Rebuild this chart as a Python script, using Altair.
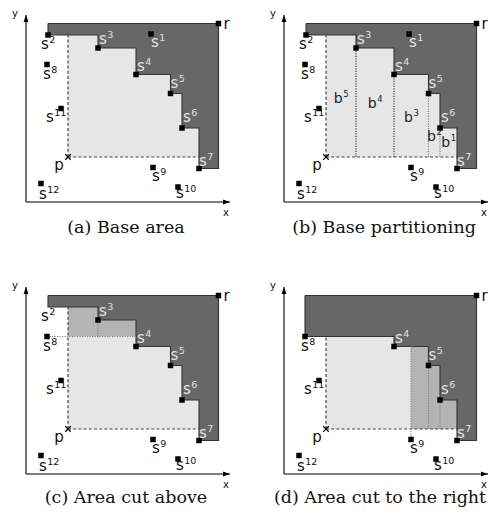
import altair as alt
import pandas as pd

# ---------------- data (diagram coordinates, origin = axis corner) ----------------
point_names = ["s1", "s2", "s3", "s4", "s5", "s6", "s7", "s8", "s9", "s10", "s11", "s12"]
point_x = [125, 22, 72, 110, 144.5, 156, 173, 21, 127, 152, 35, 15]
point_y = [168, 167, 154, 127.5, 108.5, 74, 33.5, 137.5, 34.5, 15, 93.5, 18.5]
ref_r = [192.5, 178.5]
query_p = [42, 45]
axis_end = [204, 187]

panel_keys = ["a", "b", "c", "d"]
captions = ["(a)  Base area", "(b)  Base partitioning",
            "(c)  Area cut above", "(d)  Area cut to the right"]
shown_points = {
    "a": point_names,
    "b": point_names,
    "c": point_names[2:],
    "d": point_names[3:],
}
shown_labels = {
    "a": point_names,
    "b": point_names,
    "c": point_names[1:],
    "d": point_names[3:],
}
skylines = {
    "a": ["s2", "s3", "s4", "s5", "s6", "s7"],
    "b": ["s2", "s3", "s4", "s5", "s6", "s7"],
    "c": ["s2", "s3", "s4", "s5", "s6", "s7"],
    "d": ["s8", "s4", "s5", "s6", "s7"],
}
cut_above = {"c": "s8"}
cut_right = {"d": "s9"}
partition_names = ["b5", "b4", "b3", "b2", "b1"]
partition_label_y = [103.5, 98.5, 84.5, 65.5, 59.5]

# label placement offsets (annotation layout)
label_dx = [7, 0, 8, 8, 7, 8, 7, 3, 6, 8, -5, 8]
label_dy = [-9, -10, 8, 8, 10, 10, 7, -10, -9, -7, -9, -11]

# ---------------- styling ----------------
DARK = "#676767"
LIGHT = "#e6e6e6"
MID = "#b4b4b4"
OUTLINE = "#333333"
PX = dict(zip(point_names, point_x))
PY = dict(zip(point_names, point_y))
RX, RY = ref_r
QX, QY = query_p
LDX = dict(zip(point_names, label_dx))
LDY = dict(zip(point_names, label_dy))

col_dom = [[-18, 240], [-18, 206]]
row_dom = [[-80, 194], [-33, 192]]


def enc_x(f, dom):
    return alt.X(f, type="quantitative", axis=None,
                 scale=alt.Scale(domain=dom, nice=False, zero=False))


def enc_y(f, dom):
    return alt.Y(f, type="quantitative", axis=None,
                 scale=alt.Scale(domain=dom, nice=False, zero=False))


def panel(i):
    key = panel_keys[i]
    xdom = col_dom[i % 2]
    ydom = row_dom[i // 2]
    sky = skylines[key]
    sx = [PX[n] for n in sky]
    sy = [PY[n] for n in sky]
    n = len(sky)

    dark = [(x, RX, y, RY) for x, y in zip(sx, sy)]
    steps = [(QX, sx[k + 1], QY, sy[k]) for k in range(n - 1)]
    dashed = [(QX, QY, QX, sy[0]), (QX, QY, sx[-1], QY)]
    dotted_dark, dotted_grey = [], []
    light, medium = steps, []
    if key == "b":
        light = [(max(sx[k], QX), sx[k + 1], QY, sy[k]) for k in range(n - 1)]
        segs = [(sx[k], QY, sx[k], sy[k]) for k in range(1, n - 1)]
        dotted_dark, dotted_grey = segs[:2], segs[2:]
    elif key == "c":
        cut = cut_above[key]
        cy = PY[cut]
        light = [(a, b, c, min(d, cy)) for a, b, c, d in steps]
        medium = [(a, b, cy, d) for a, b, c, d in steps if d > cy]
        reach = max(b for a, b, c, d in steps if d >= cy)
        dotted_grey = [(PX[cut], cy, reach, cy)] + [
            (sx[k], cy, sx[k], sy[k]) for k in range(1, n - 1) if sy[k] > cy]
    elif key == "d":
        cut = cut_right[key]
        cx = PX[cut]
        light = [(a, min(b, cx), c, d) for a, b, c, d in steps]
        medium = [(cx, b, c, d) for a, b, c, d in steps if b > cx]
        top = max(d for a, b, c, d in steps if b > cx)
        dotted_grey = [(cx, PY[cut], cx, top)] + [
            (sx[k], QY, sx[k], sy[k]) for k in range(1, n - 1) if sx[k] > cx]

    rect_rows = ([dict(x0=a, x1=b, y0=c, y1=d, fill=DARK) for a, b, c, d in dark]
                 + [dict(x0=a, x1=b, y0=c, y1=d, fill=MID) for a, b, c, d in medium]
                 + [dict(x0=a, x1=b, y0=c, y1=d, fill=LIGHT) for a, b, c, d in light])
    rects = alt.Chart(pd.DataFrame(rect_rows)).mark_rect(strokeWidth=0).encode(
        x=enc_x("x0", xdom), x2="x1", y=enc_y("y0", ydom), y2="y1",
        color=alt.Color("fill:N", scale=None))

    # outline of dominated (dark) region
    path = [(sx[0], RY), (RX, RY), (RX, sy[-1])]
    for k in range(n - 1, 0, -1):
        path += [(sx[k], sy[k]), (sx[k], sy[k - 1])]
    path += [(sx[0], sy[0]), (sx[0], RY)]
    outline = alt.Chart(pd.DataFrame(
        [dict(x=x, y=y, o=j) for j, (x, y) in enumerate(path)])).mark_line(
        color=OUTLINE, strokeWidth=1.1).encode(
        x=enc_x("x", xdom), y=enc_y("y", ydom), order="o:Q")

    def seg_chart(segs, dash, color, width):
        df = pd.DataFrame([dict(x0=a, y0=b, x1=c, y1=d) for a, b, c, d in segs])
        return alt.Chart(df).mark_rule(strokeDash=dash, color=color, strokeWidth=width).encode(
            x=enc_x("x0", xdom), y=enc_y("y0", ydom), x2="x1", y2="y1")

    layers = [rects, outline, seg_chart(dashed, [3, 2.2], "#444444", 1.2)]
    if dotted_dark:
        layers.append(seg_chart(dotted_dark, [1.2, 1.3], "#333333", 1.1))
    if dotted_grey:
        layers.append(seg_chart(dotted_grey, [1.2, 1.3], "#808080", 1.1))

    # axes
    layers.append(seg_chart([(0, 0, axis_end[0], 0), (0, 0, 0, axis_end[1])], [1, 0], "black", 1.1))
    arrows = pd.DataFrame([
        dict(x=axis_end[0], y=0, s="M0,0L-2,-0.7L-2,0.7Z"),
        dict(x=0, y=axis_end[1], s="M0,0L-0.7,2L0.7,2Z"),
    ])
    layers.append(alt.Chart(arrows).mark_point(filled=True, color="black", size=49, opacity=1).encode(
        x=enc_x("x", xdom), y=enc_y("y", ydom), shape=alt.Shape("s:N", scale=None)))

    # markers
    mk = pd.DataFrame([dict(x=PX[m], y=PY[m]) for m in shown_points[key]] + [dict(x=RX, y=RY)])
    layers.append(alt.Chart(mk).mark_square(size=30, color="black", opacity=1).encode(
        x=enc_x("x", xdom), y=enc_y("y", ydom)))
    layers.append(alt.Chart(pd.DataFrame([dict(x=QX, y=QY)])).mark_point(
        shape="M-1,-1L1,1M-1,1L1,-1", size=30, filled=False, color="black",
        strokeWidth=1.2, opacity=1).encode(x=enc_x("x", xdom), y=enc_y("y", ydom)))

    # labels: base letter + raised index
    def on_dark(x, y):
        return any(a <= x <= b and c <= y <= d for a, b, c, d in dark)

    mains, sups = [], []

    def add_label(name, cx, cy, color, fs, sfs):
        letter, idx = name[0], name[1:]
        w_main = (0.635 if letter == "b" else 0.521) * fs
        w_sup = 0.636 * sfs * len(idx)
        bx = cx - (w_main + w_sup) / 2 + w_main
        mains.append(dict(x=bx, y=cy - 4, t=letter, c=color, fs=fs))
        sups.append(dict(x=bx + 0.4, y=cy + 1.8, t=idx, c=color, fs=sfs))

    for m in shown_labels[key]:
        lx, ly = PX[m] + LDX[m], PY[m] + LDY[m]
        add_label(m, lx, ly, "#e2e2e2" if on_dark(lx, ly) else "#111111", 15, 9.5)
    if key == "b":
        for (a, b, c, d), nm, yy in zip(light, partition_names, partition_label_y):
            add_label(nm, (a + b) / 2, yy, "#222222", 14, 8.5)

    layers.append(alt.Chart(pd.DataFrame(mains)).mark_text(
        font="DejaVu Sans", baseline="alphabetic", align="right").encode(
        x=enc_x("x", xdom), y=enc_y("y", ydom), text="t:N",
        size=alt.Size("fs:Q", scale=None),
        color=alt.Color("c:N", scale=None)))
    layers.append(alt.Chart(pd.DataFrame(sups)).mark_text(
        font="DejaVu Sans", baseline="alphabetic", align="left").encode(
        x=enc_x("x", xdom), y=enc_y("y", ydom), text="t:N",
        size=alt.Size("fs:Q", scale=None),
        color=alt.Color("c:N", scale=None)))

    plain = pd.DataFrame([dict(x=RX + 8, y=RY, t="r"), dict(x=QX - 9, y=QY - 8, t="p")])
    layers.append(alt.Chart(plain).mark_text(
        font="DejaVu Sans", fontSize=15, baseline="middle", align="center", color="#111").encode(
        x=enc_x("x", xdom), y=enc_y("y", ydom), text="t:N"))

    ax_lab = pd.DataFrame([dict(x=axis_end[0] - 4, y=-10.5, t="x"),
                           dict(x=-11, y=axis_end[1] + 1.5, t="y")])
    layers.append(alt.Chart(ax_lab).mark_text(
        font="DejaVu Sans", fontSize=10, baseline="middle", align="center", color="#111").encode(
        x=enc_x("x", xdom), y=enc_y("y", ydom), text="t:N"))

    cap_x = 96 if key == "d" else 100
    cap_y = -26 if i < 2 else -24
    layers.append(alt.Chart(pd.DataFrame([dict(x=cap_x, y=cap_y, t=captions[i])])).mark_text(
        font="DejaVu Serif", fontSize=17.5, baseline="middle", align="center", color="#111").encode(
        x=enc_x("x", xdom), y=enc_y("y", ydom), text="t:N"))

    return alt.layer(*layers).properties(
        width=xdom[1] - xdom[0], height=ydom[1] - ydom[0])


chart = alt.concat(*[panel(i) for i in range(4)], columns=2, spacing=0,
                   bounds="flush").properties(padding=0).configure_view(stroke=None)

chart.save("out.html", embed_options={"renderer": "svg", "actions": False})
